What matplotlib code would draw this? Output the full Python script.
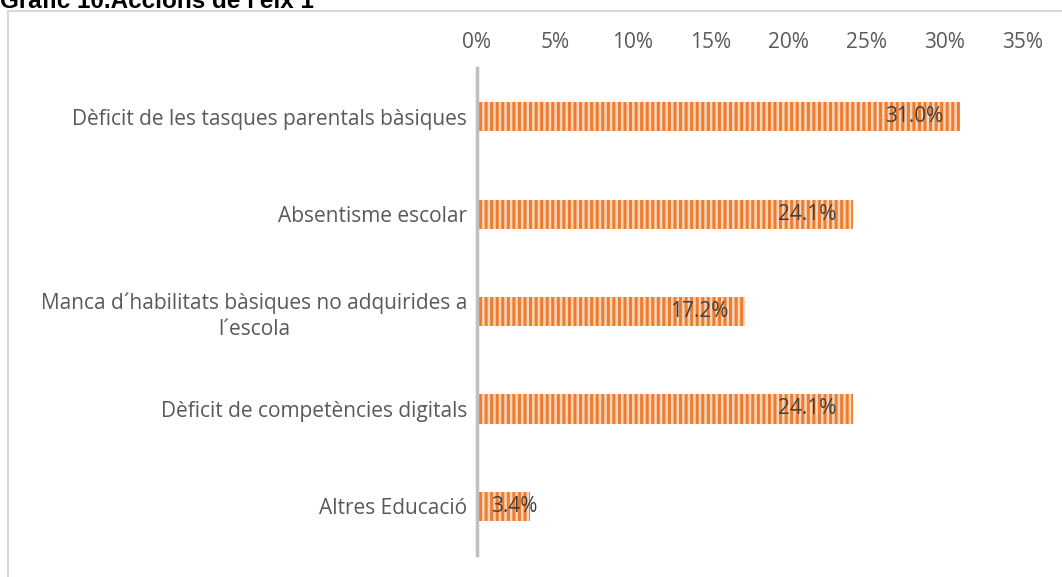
import matplotlib
matplotlib.use("Agg")
import matplotlib.pyplot as plt
from matplotlib.patches import Rectangle

# data
categories = [
    "Dèficit de les tasques parentals bàsiques",
    "Absentisme escolar",
    "Manca d´habilitats bàsiques no adquirides a\nl´escola",
    "Dèficit de competències digitals",
    "Altres Educació",
]
values = [31.0, 24.1, 17.2, 24.1, 3.4]
x_ticks = [0, 5, 10, 15, 20, 25, 30, 35]
title = "Gràfic 10.Accions de l'eix 1"

plt.rcParams["hatch.linewidth"] = 2.2
plt.rcParams["font.family"] = ["Open Sans", "DejaVu Sans"]
fs = 15

fig = plt.figure(figsize=(10.62, 5.77), dpi=100)
ax = fig.add_axes([0.449, 0.038, 0.514, 0.844])

ypos = list(range(len(categories)))
ax.barh(ypos, values, height=0.3, color="#FBD5BA", edgecolor="#ED7D31",
        hatch="|||", linewidth=0)

for y, v in zip(ypos, values):
    if v > 5:
        ax.annotate(f"{v:.1f}%", (v, y), xytext=(-12, 0), textcoords="offset points",
                    ha="right", va="center", fontsize=fs, color="#404040")
    else:
        ax.annotate(f"{v:.1f}%", (v, y), xytext=(-11, 0), textcoords="offset points",
                    ha="center", va="center", fontsize=fs, color="#404040")

ax.set_xlim(0, 35)
ax.set_ylim(len(categories) - 0.5, -0.5)
ax.set_xticks(x_ticks)
ax.set_xticklabels([f"{t}%" for t in x_ticks])
ax.set_yticks(ypos)
ax.set_yticklabels(categories, multialignment="center", linespacing=1.3)
ax.xaxis.tick_top()
ax.tick_params(axis="x", length=0, pad=11, labelsize=fs, labelcolor="#595959")
ax.tick_params(axis="y", length=0, pad=7, labelsize=fs, labelcolor="#595959")
for s in ["top", "right", "bottom"]:
    ax.spines[s].set_visible(False)
ax.spines["left"].set_color("#BFBFBF")
ax.spines["left"].set_linewidth(2.5)

# chart frame, cut off at right and bottom
fig.patches.append(Rectangle((7.5 / 1062, -0.1), 1.2, 1.1 - 10.5 / 577,
                             transform=fig.transFigure, fill=False,
                             edgecolor="#D9D9D9", linewidth=1.5))
fig.text(0.0, 1 - 8 / 577, title, fontsize=17.5, fontweight="bold",
         family="Liberation Sans", ha="left", va="baseline", color="black")

fig.savefig("out.png", dpi=100)
